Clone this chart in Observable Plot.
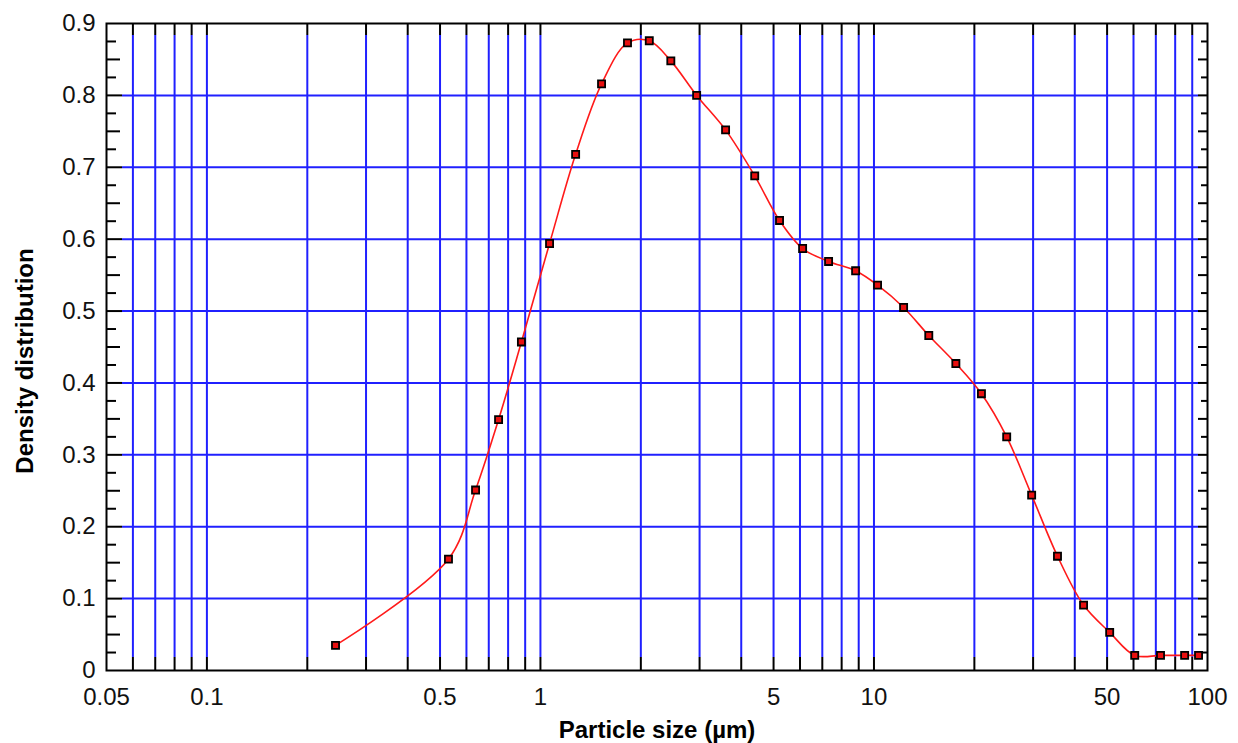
<!DOCTYPE html>
<html><head><meta charset="utf-8">
<script src="https://cdn.jsdelivr.net/npm/d3@7"></script>
<script src="https://cdn.jsdelivr.net/npm/@observablehq/plot@0.6"></script>
<style>
html,body{margin:0;padding:0;background:#fff;}
#chart svg{display:block;}
</style></head><body><div id="chart"></div>
<script>
// Particle size (µm) and density distribution values
const sizes   = [0.243, 0.53, 0.639, 0.749, 0.877, 1.065, 1.275, 1.525, 1.824, 2.12, 2.46, 2.94, 3.59, 4.39, 5.21, 6.11, 7.31, 8.81, 10.25, 12.27, 14.6, 17.6, 21.0, 25.0, 29.7, 35.5, 42.5, 50.9, 60.5, 72.3, 85.4, 94];
const density = [0.035, 0.155, 0.251, 0.349, 0.457, 0.594, 0.718, 0.816, 0.873, 0.876, 0.848, 0.800, 0.752, 0.688, 0.626, 0.587, 0.569, 0.556, 0.536, 0.505, 0.466, 0.427, 0.385, 0.325, 0.244, 0.159, 0.091, 0.053, 0.021, 0.021, 0.021, 0.021];

const xDomain = [0.05, 100];
const yDomain = [0, 0.9];
const xTickValues = [0.05, 0.1, 0.5, 1, 5, 10, 50, 100];
const yTickValues = [0, 0.1, 0.2, 0.3, 0.4, 0.5, 0.6, 0.7, 0.8, 0.9];
const xGridValues = [0.06, 0.07, 0.08, 0.09, 0.1, 0.2, 0.3, 0.4, 0.5, 0.6, 0.7, 0.8, 0.9, 1, 2, 3, 4, 5, 6, 7, 8, 9, 10, 20, 30, 40, 50, 60, 70, 80, 90];
const yGridValues = [0.1, 0.2, 0.3, 0.4, 0.5, 0.6, 0.7, 0.8];
const yHalfTicks = [0.05, 0.15, 0.25, 0.35, 0.45, 0.55, 0.65, 0.75, 0.85];
const yQuarterTicks = [0.025, 0.075, 0.125, 0.175, 0.225, 0.275, 0.325, 0.375, 0.425, 0.475, 0.525, 0.575, 0.625, 0.675, 0.725, 0.775, 0.825, 0.875];

const points = sizes.map((s, i) => ({size: s, density: density[i]}));

const W = 1238, H = 743;
const mL = 106, mR = 31, mT = 23, mB = 73;
const plotW = W - mL - mR;
const plotH = H - mT - mB;
const blue = "#2020ff";

const chart = Plot.plot({
  width: W, height: H,
  marginLeft: mL, marginRight: mR, marginTop: mT, marginBottom: mB,
  style: {fontFamily: "'Liberation Sans', Arial, sans-serif", background: "#fff", color: "#000"},
  x: {type: "log", domain: xDomain, axis: null},
  y: {domain: yDomain},
  marks: [
    // vertical grid: blue line with black tick ends top and bottom
    Plot.ruleX(xGridValues, {stroke: blue, strokeWidth: 2, insetTop: 12, insetBottom: 13}),
    Plot.ruleX(xGridValues, {stroke: "black", strokeWidth: 2, insetBottom: plotH - 12}),
    Plot.ruleX(xGridValues, {stroke: "black", strokeWidth: 2, insetTop: plotH - 13}),
    // horizontal grid: blue line with black tick ends left and right
    Plot.ruleY(yGridValues, {stroke: blue, strokeWidth: 2, insetLeft: 16, insetRight: 9}),
    Plot.ruleY(yGridValues, {stroke: "black", strokeWidth: 2, insetRight: plotW - 16}),
    Plot.ruleY(yGridValues, {stroke: "black", strokeWidth: 2, insetLeft: plotW - 9}),
    // minor y ticks, left and right
    Plot.ruleY(yHalfTicks, {stroke: "black", strokeWidth: 2, insetRight: plotW - 14}),
    Plot.ruleY(yQuarterTicks, {stroke: "black", strokeWidth: 2, insetRight: plotW - 10}),
    Plot.ruleY(yHalfTicks, {stroke: "black", strokeWidth: 2, insetLeft: plotW - 9}),
    Plot.ruleY(yQuarterTicks, {stroke: "black", strokeWidth: 2, insetLeft: plotW - 6}),
    Plot.frame({stroke: "black", strokeWidth: 2}),
    Plot.line(points, {x: "size", y: "density", stroke: "#ff1a1a", strokeWidth: 1.6, curve: "catmull-rom"}),
    Plot.dot(points, {x: "size", y: "density", symbol: "square", r: 4, fill: "#e81010", stroke: "black", strokeWidth: 1.8}),
    // x tick labels
    Plot.text(xTickValues, {x: d => d, text: d => String(d), frameAnchor: "bottom", dy: 17, lineAnchor: "top", textAnchor: "middle", fontSize: 24, fill: "#111"}),
    Plot.axisY(yTickValues, {tickSize: 0, tickPadding: 11, tickFormat: d => d === 0 ? "0" : d.toFixed(1), fontSize: 24, label: null, fill: "#111"}),
    Plot.text(["Particle size (µm)"], {text: d => d, frameAnchor: "bottom", dy: 60, textAnchor: "middle", lineAnchor: "middle", fontSize: 24, fontWeight: "bold", fill: "#000"}),
    Plot.text(["Density distribution"], {text: d => d, frameAnchor: "left", dx: -81, dy: 14, rotate: -90, textAnchor: "middle", lineAnchor: "middle", fontSize: 24, fontWeight: "bold", fill: "#000"})
  ]
});
document.getElementById("chart").appendChild(chart);
</script>
</body></html>
